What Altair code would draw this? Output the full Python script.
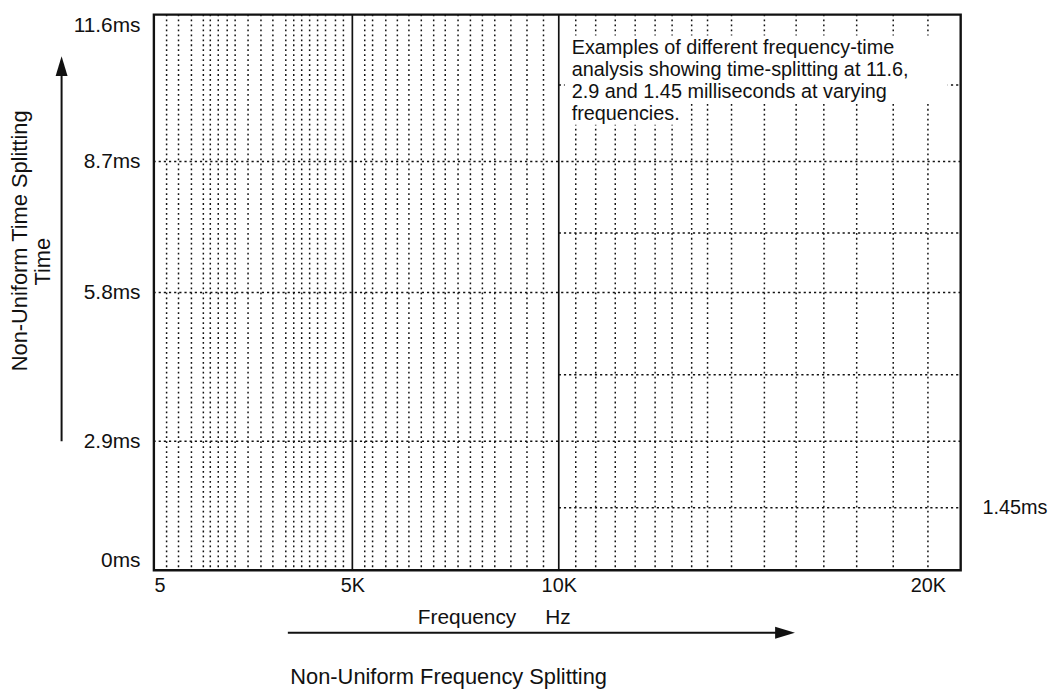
import altair as alt
import pandas as pd

FONT = "Liberation Sans"

# ---- data ----
freq_dotted_low = [325, 625, 950, 1250, 1425, 1625, 1850, 2050, 2375, 2700,
                   3000, 3325, 3525, 3725, 3925, 4125, 4325, 4575, 4775]
freq_dotted_mid = [5300, 5490, 5810, 6090, 6370, 6670, 6970, 7250, 7560, 7860,
                   8150, 8450, 8840, 9230, 9630]
freq_dotted_high = [10460, 11000, 11530, 12070, 12610, 13070, 13600, 14030,
                    14680, 15570, 16430, 17180, 18070, 19060, 20000]
freq_solid = [5000, 10000]
time_split_full = [2.9, 5.8, 8.7]          # splits across all frequencies
time_split_fine = [1.45, 4.35, 7.25, 10.15]  # extra splits above 10K
fine_from = 10000
freq_max = 20890

time_ticks = [0, 2.9, 5.8, 8.7, 11.6]
time_labels = ["0ms", "2.9ms", "5.8ms", "8.7ms", "11.6ms"]
freq_ticks = [5, 5000, 10000, 20000]
freq_labels = ["5", "5K", "10K", "20K"]
fine_label_time = [1.45]
fine_label_text = ["1.45ms"]

note_lines = [
    "Examples of different frequency-time",
    "analysis showing time-splitting at 11.6,",
    "2.9 and 1.45 milliseconds at varying",
    "frequencies.",
]
x_title = "Frequency\u00a0\u00a0\u00a0\u00a0\u00a0Hz"
x_subtitle = "Non-Uniform Frequency Splitting"
y_title = "Non-Uniform Time Splitting"
y_subtitle = "Time"

# ---- layout ----
W, H = 813, 560
PAD = {"left": 147, "top": 4, "right": 89, "bottom": 119}
FS = 20

x_scale = alt.Scale(domain=[5, 5000, 10000, 20000, freq_max],
                    range=[0, 200, 408, 780, W], nice=False, zero=False)
y_scale = alt.Scale(domain=[0, 1.45, 2.9, 4.35, 5.8, 7.25, 8.7, 10.15, 11.6],
                    range=[H, 497, 430, 363, 280, 220, 148, 71, 0],
                    nice=False, zero=False)


def label_expr(values, labels):
    expr = "''"
    for v, l in reversed(list(zip(values, labels))):
        expr = f"datum.value == {v} ? '{l}' : ({expr})"
    return expr


x_axis = alt.Axis(values=freq_ticks, labelExpr=label_expr(freq_ticks, freq_labels),
                  title=None, grid=False, ticks=False, domain=False,
                  labelPadding=5, labelOverlap=False, labelFlush=True,
                  labelFontSize=20)
y_axis = alt.Axis(values=time_ticks, labelExpr=label_expr(time_ticks, time_labels),
                  title=None, grid=False, ticks=False, domain=False,
                  labelPadding=14, labelOverlap=False, labelFlush=True,
                  labelFontSize=21)


def X(field):
    return alt.X(field, type="quantitative", scale=x_scale, axis=x_axis)


def X2(field):
    return alt.X2(field)


def Y(field):
    return alt.Y(field, type="quantitative", scale=y_scale, axis=y_axis)


df_dot = pd.DataFrame({"f": freq_dotted_low + freq_dotted_mid + freq_dotted_high})
df_solid = pd.DataFrame({"f": freq_solid})
df_full = pd.DataFrame({"t": time_split_full})
df_fine = pd.DataFrame({"t": time_split_fine,
                        "f0": [fine_from] * len(time_split_fine),
                        "f1": [freq_max] * len(time_split_fine)})
df_lab = pd.DataFrame({"t": fine_label_time, "label": fine_label_text})
one = pd.DataFrame({"a": [0]})

vdots = alt.Chart(df_dot).mark_rule(color="#111", strokeWidth=1.5,
                                    strokeDash=[1.8, 3.2]).encode(x=X("f"))
solid = alt.Chart(df_solid).mark_rule(color="#111", strokeWidth=1.7).encode(x=X("f"))
hfull = alt.Chart(df_full).mark_rule(color="#111", strokeWidth=1.5,
                                     strokeDash=[2.2, 3.0]).encode(y=Y("t"))
hfine = alt.Chart(df_fine).mark_rule(color="#111", strokeWidth=1.5,
                                     strokeDash=[2.2, 3.0]).encode(
    y=Y("t"), x=X("f0"), x2=X2("f1"))

box1 = alt.Chart(one).mark_rect(color="white").encode(
    x=alt.value(414), x2=alt.value(800), y=alt.value(21), y2=alt.value(89))
box2 = alt.Chart(one).mark_rect(color="white").encode(
    x=alt.value(414), x2=alt.value(534), y=alt.value(88), y2=alt.value(111))
note = alt.Chart(one).mark_text(text=note_lines, align="left", baseline="top",
                                lineHeight=22, font=FONT, fontSize=FS,
                                color="#111").encode(
    x=alt.value(421), y=alt.value(24))

fine_lab = alt.Chart(df_lab).mark_text(align="left", baseline="middle", font=FONT,
                                       fontSize=FS, color="#111").encode(
    y=Y("t"), x=alt.value(W + 22), text="label:N")

# axis titles and arrows (annotations outside the plot)
xt = alt.Chart(one).mark_text(text=x_title, font=FONT, fontSize=21, color="#111").encode(
    x=alt.value(343), y=alt.value(608))
xs = alt.Chart(one).mark_text(text=x_subtitle, font=FONT, fontSize=22, color="#111").encode(
    x=alt.value(297), y=alt.value(668))
x_arrow = alt.Chart(one).mark_rule(color="#111", strokeWidth=2).encode(
    x=alt.value(135), x2=alt.value(636), y=alt.value(623))
x_head = alt.Chart(one).mark_point(shape="M -1 -0.6 L 1 0 L -1 0.6 Z", filled=True,
                                   opacity=1, color="#111", size=400).encode(
    x=alt.value(636), y=alt.value(623))

yt = alt.Chart(one).mark_text(text=y_title, font=FONT, fontSize=22, angle=270,
                              color="#111").encode(x=alt.value(-135), y=alt.value(228))
ys = alt.Chart(one).mark_text(text=y_subtitle, font=FONT, fontSize=22, angle=270,
                              color="#111").encode(x=alt.value(-112), y=alt.value(249))
y_arrow = alt.Chart(one).mark_rule(color="#111", strokeWidth=2).encode(
    x=alt.value(-93), y=alt.value(430), y2=alt.value(55))
y_head = alt.Chart(one).mark_point(shape="M -0.6 1 L 0 -1 L 0.6 1 Z", filled=True,
                                   opacity=1, color="#111", size=400).encode(
    x=alt.value(-93), y=alt.value(52))

chart = alt.layer(
    vdots, solid, hfull, hfine, box1, box2, note, fine_lab,
    xt, xs, x_arrow, x_head, yt, ys, y_arrow, y_head
).properties(
    width=W, height=H, padding=PAD, autosize="none", background="white"
).configure_view(
    stroke="#111", strokeWidth=2.4
).configure_axis(
    labelFont=FONT, labelColor="#111"
)

chart.save("out.html", embed_options={"renderer": "svg", "actions": False})
